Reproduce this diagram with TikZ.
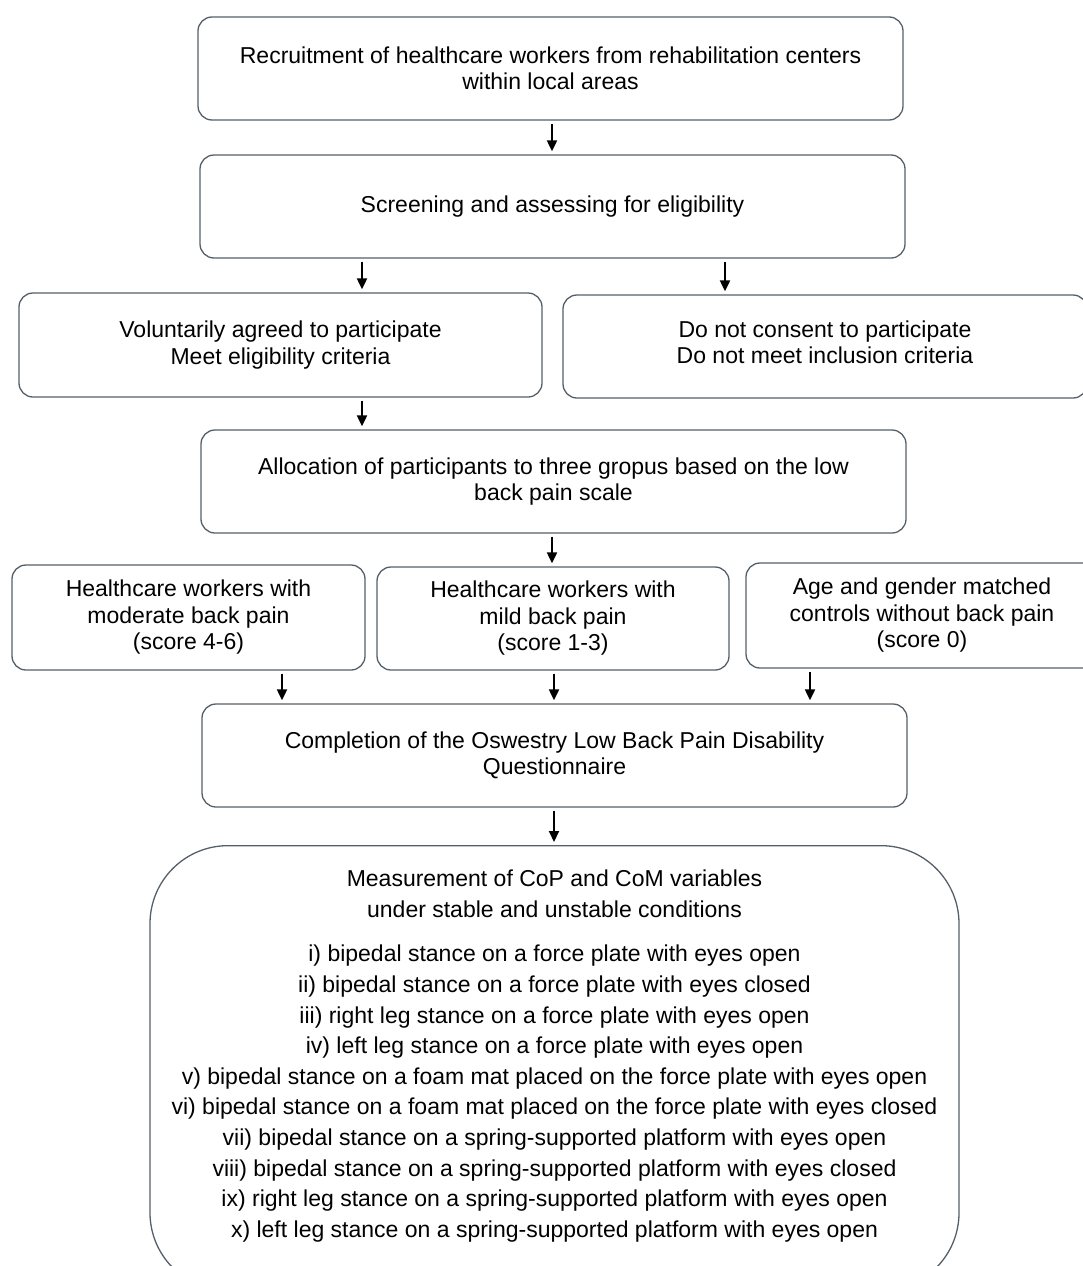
\documentclass[tikz,border=0pt]{standalone}
\usepackage{fontspec}
\setmainfont{Liberation Sans}
\usetikzlibrary{arrows.meta}
\definecolor{boxline}{RGB}{85,95,105}
\tikzset{
  fbox/.style={draw=boxline, line width=1.3pt, rounded corners=14pt, inner sep=0pt,
    align=center, font=\fontsize{23}{26.5}\selectfont},
  bigbox/.style={draw=boxline, line width=1.3pt, rounded corners=78pt, inner sep=0pt},
  arr/.style={draw=black, line width=2pt, -{Triangle[length=11pt,width=10pt]},
    shorten <=3pt, shorten >=3pt}
}
\begin{document}
\begin{tikzpicture}[x=1pt,y=-1pt]
\clip (0,0) rectangle (1083,1266);
\useasboundingbox (0,0) rectangle (1083,1266);
\node[fbox, minimum width=705pt, minimum height=103pt] (b1) at (550.5,68.5)
  {Recruitment of healthcare workers from rehabilitation centers\\within local areas};
\node[fbox, minimum width=705pt, minimum height=103pt] (b2) at (552.5,206.5)
  {Screening and assessing for eligibility};
\node[fbox, minimum width=523pt, minimum height=104pt] (b3) at (280.5,345)
  {Voluntarily agreed to participate\\Meet eligibility criteria};
\node[fbox, minimum width=524pt, minimum height=103pt] (b4) at (825,346.5) {};
\node[align=center, inner sep=0pt, font=\fontsize{23}{26.5}\selectfont] (b4text) at (825,342.5)
  {Do not consent to participate\\Do not meet inclusion criteria};
\node[fbox, minimum width=705pt, minimum height=103pt] (b5) at (553.5,481.5)
  {Allocation of participants to three gropus based on the low\\back pain scale};
\node[fbox, minimum width=353pt, minimum height=105pt] (b6) at (188.5,617.5)
  {Healthcare workers with\\moderate back pain\\(score 4-6)};
\node[fbox, minimum width=352pt, minimum height=103pt] (b7) at (553,618.5)
  {Healthcare workers with\\mild back pain\\(score 1-3)};
\node[fbox, minimum width=352pt, minimum height=105pt] (b8) at (922,615.5)
  {Age and gender matched\\controls without back pain\\(score 0)};
\node[fbox, minimum width=705pt, minimum height=103pt] (b9) at (554.5,755.5)
  {Completion of the Oswestry Low Back Pain Disability\\Questionnaire};
\node[bigbox, minimum width=809pt, minimum height=445pt, anchor=north] (m) at (554.5,845) {};
\node[align=center, inner sep=0pt, font=\fontsize{23}{30.6}\selectfont] (mtext) at (554.5,1056)
  {Measurement of CoP and CoM variables\\
   under stable and unstable conditions\\[14pt]
   i) bipedal stance on a force plate with eyes open\\
   ii) bipedal stance on a force plate with eyes closed\\
   iii) right leg stance on a force plate with eyes open\\
   iv) left leg stance on a force plate with eyes open\\
   v) bipedal stance on a foam mat placed on the force plate with eyes open\\
   vi) bipedal stance on a foam mat placed on the force plate with eyes closed\\
   vii) bipedal stance on a spring-supported platform with eyes open\\
   viii) bipedal stance on a spring-supported platform with eyes closed\\
   ix) right leg stance on a spring-supported platform with eyes open\\
   x) left leg stance on a spring-supported platform with eyes open};
\draw[arr] (b1.south -| 552,0) -- (b2.north -| 552,0);
\draw[arr] (b2.south -| 362,0) -- (b3.north -| 362,0);
\draw[arr] (b2.south -| 725,0) -- (b4.north -| 725,0);
\draw[arr] (b3.south -| 362,0) -- (b5.north -| 362,0);
\draw[arr] (b5.south -| 552,0) -- (b7.north -| 552,0);
\draw[arr] (b6.south -| 282,0) -- (b9.north -| 282,0);
\draw[arr] (b7.south -| 554,0) -- (b9.north -| 554,0);
\draw[arr] (b8.south -| 810,0) -- (b9.north -| 810,0);
\draw[arr] (b9.south -| 554,0) -- (m.north -| 554,0);
\end{tikzpicture}
\end{document}
